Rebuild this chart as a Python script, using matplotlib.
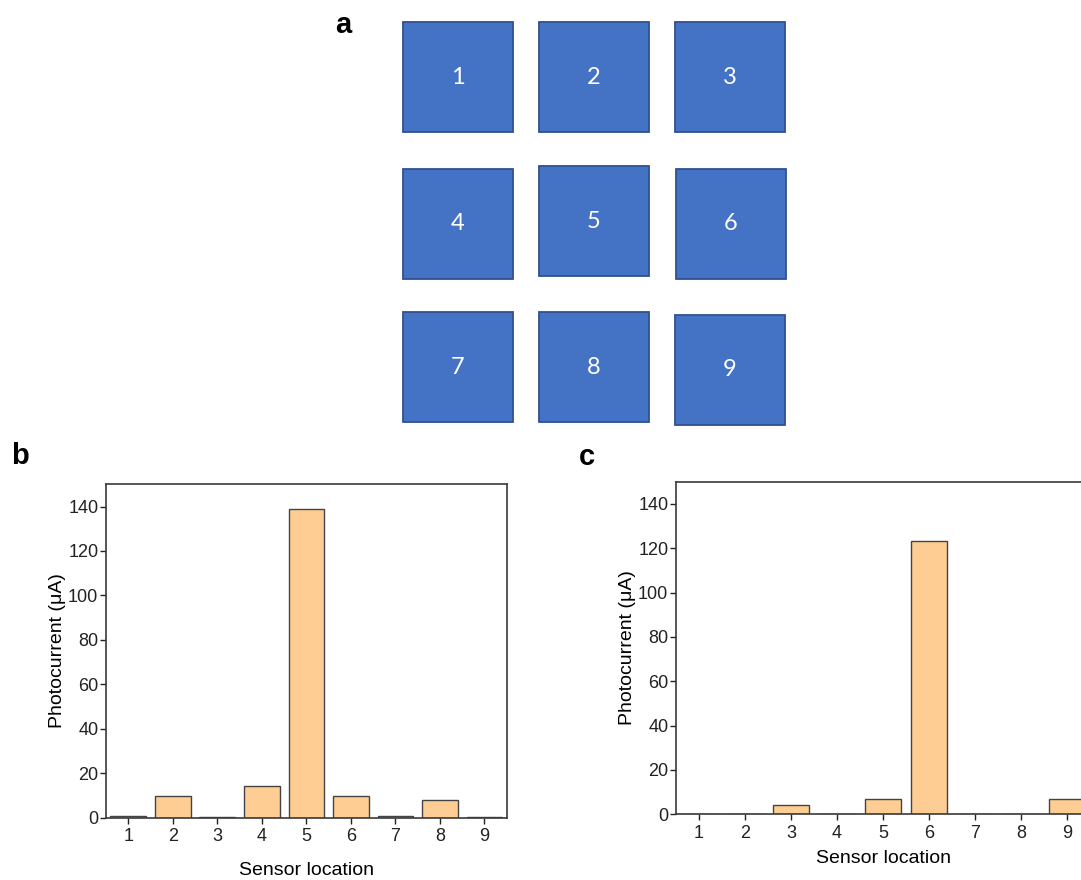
import numpy as np
import matplotlib.pyplot as plt
from matplotlib.patches import Rectangle

plt.rcParams['font.family'] = ['Liberation Sans', 'DejaVu Sans']

# data
sensor_locations = [1, 2, 3, 4, 5, 6, 7, 8, 9]
photocurrent_b = [0.8, 9.8, 0.1, 14.3, 138.8, 9.9, 0.6, 7.9, 0.5]
photocurrent_c = [0.0, 0.2, 4.1, 0.0, 6.8, 123.3, 0.0, 0.2, 6.8]
y_ticks = [0, 20, 40, 60, 80, 100, 120, 140]

bar_face = '#FECD93'
bar_edge = '#444444'
spine_col = '#3a3a3a'

W, H = 1081, 880
fig = plt.figure(figsize=(W / 100, H / 100), dpi=100)

# panel a: sensor layout drawn in pixel space
ax_a = fig.add_axes([0, 0, 1, 1])
ax_a.set_xlim(0, W)
ax_a.set_ylim(H, 0)
ax_a.axis('off')

# (left, top) of each pad in pixels, row by row
pad_pos = [(403, 22), (539, 22), (675, 22),
           (403, 169), (539, 166), (676, 169),
           (403, 312), (539, 312), (675, 315)]
pad_size = 110
for sid, (px, py) in zip(sensor_locations, pad_pos):
    ax_a.add_patch(Rectangle((px, py), pad_size, pad_size, facecolor='#4472C4',
                             edgecolor='#2F528F', linewidth=1.3))
    ax_a.text(px + pad_size / 2, py + pad_size / 2, str(sid), color='white',
              ha='center', va='center', fontsize=17, family=['Lato', 'DejaVu Sans'])

ax_a.text(343, 25, 'a', fontsize=21, fontweight='bold', ha='center', va='center')
ax_a.text(20, 456, 'b', fontsize=21, fontweight='bold', ha='center', va='center')
ax_a.text(587, 457, 'c', fontsize=21, fontweight='bold', ha='center', va='center')


def bar_panel(rect, values, xpad):
    ax = fig.add_axes(rect)
    ax.bar(sensor_locations, values, width=0.8, color=bar_face,
           edgecolor=bar_edge, linewidth=1.0)
    ax.set_xlim(0.5, 9.5)
    ax.set_ylim(0, 150)
    ax.set_xticks(sensor_locations)
    ax.set_yticks(y_ticks)
    ax.tick_params(direction='out', length=4.5, width=1.0, colors='#222222',
                   labelsize=13, pad=1)
    ax.tick_params(axis='x', pad=3)
    for s in ax.spines.values():
        s.set_color(spine_col)
        s.set_linewidth(1.2)
    ax.set_xlabel('Sensor location', fontsize=14, labelpad=xpad)
    ax.set_ylabel('Photocurrent (\u03bcA)', fontsize=14, labelpad=1.5)
    return ax


bar_panel([106 / W, (H - 817.7) / H, 400.7 / W, 333.4 / H], photocurrent_b, 12)
bar_panel([676 / W, (H - 814.3) / H, 414 / W, 332.6 / H], photocurrent_c, 6)

fig.savefig('out.png', dpi=100)
